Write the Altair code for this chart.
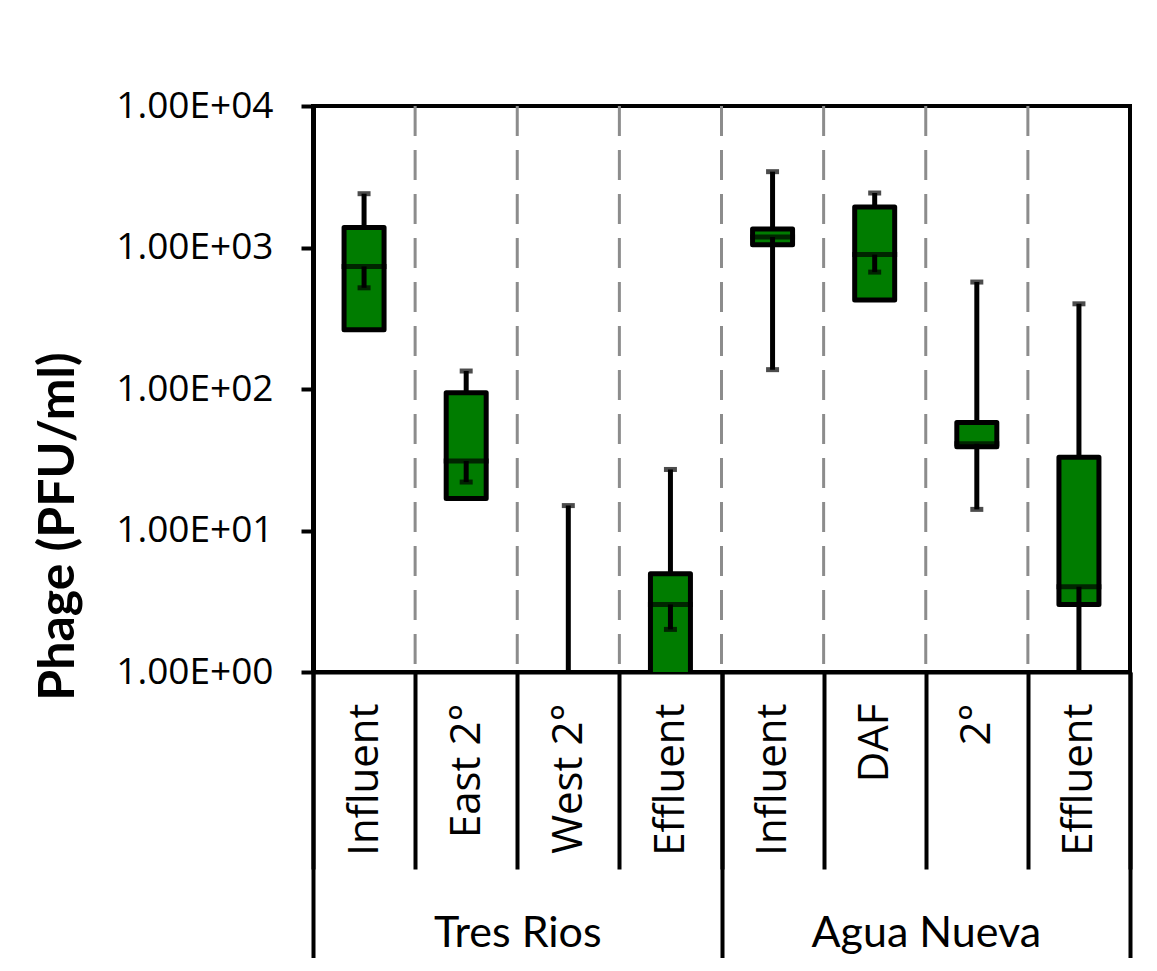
import altair as alt
import pandas as pd

# ---- data ----
groups = ["Tres Rios"] * 4 + ["Agua Nueva"] * 4
categories = ["Influent", "East 2°", "West 2°", "Effluent",
              "Influent", "DAF", "2°", "Effluent"]
q1 = [262, 16.8, 0.5, 0.5, 1047, 426, 39, 3.0]
median = [735, 31, 0.5, 3.0, 1186, 891, 41, 4.0]
q3 = [1386, 94, 0.5, 4.94, 1352, 1936, 58, 33]
upper = [2400, 134, 15, 27, 3435, 2427, 570, 400]
lower = [519, 22, 0.5, 2.0, 137, 670, 14.1, 0.5]
group_order = ["Tres Rios", "Agua Nueva"]
y_ticks = [1, 10, 100, 1000, 10000]

keys = [f"{g}|{c}" for g, c in zip(groups, categories)]
df = pd.DataFrame({
    "key": keys, "group": groups, "cat": categories, "idx": list(range(len(keys))),
    "q1": q1, "median": median, "q3": q3, "upper": upper, "lower": lower,
})
gdf = pd.DataFrame({"group": group_order})

GREEN = "#007c00"
BLACK = "#000000"

x_scale = alt.Scale(paddingInner=0, paddingOuter=0)
x_axis = alt.Axis(
    orient="bottom", title=None,
    labelExpr="split(datum.label, '|')[1]",
    labelAngle=-90, labelAlign="right", labelBaseline="middle",
    labelFont="Open Sans", labelFontSize=42, labelColor=BLACK,
    labelPadding=-166, labelLimit=400,
    tickBand="extent", tickSize=197, tickWidth=4, tickColor=BLACK,
    domainColor=BLACK, domainWidth=4, grid=False,
)
y_scale = alt.Scale(type="log", domain=[1, 10000], nice=False)
y_axis = alt.Axis(
    values=y_ticks,
    labelExpr="'1.00E+0' + round(log(datum.value) / LN10)",
    labelFont="Open Sans", labelFontSize=37, labelColor=BLACK, labelPadding=28,
    labelLimit=400,
    tickSize=12, tickWidth=4, tickColor=BLACK,
    domainColor=BLACK, domainWidth=5, grid=False,
    title="Phage (PFU/ml)", titleFont="Lato", titleFontSize=50,
    titleFontWeight="bold", titleColor=BLACK, titleLimit=800,
    titleAngle=270, titleX=-255, titleY=420,
    titleAlign="center", titleBaseline="middle",
)

X = alt.X("key:N", sort=keys, scale=x_scale, axis=x_axis)


def Y(field):
    return alt.Y(f"{field}:Q", scale=y_scale, axis=y_axis)


base = alt.Chart(df)

grid = base.transform_filter("datum.idx > 0").mark_rule(
    color="#8c8c8c", strokeWidth=3, strokeDash=[30, 14]
).encode(x=alt.X("key:N", sort=keys, scale=x_scale, axis=x_axis, bandPosition=0))

up_whisker = base.mark_rule(color=BLACK, strokeWidth=5, clip=True).encode(
    x=X, y=Y("q3"), y2="upper:Q")

box = base.mark_bar(size=40, fill=GREEN, stroke=BLACK, strokeWidth=5,
                    strokeJoin="round", clip=True).encode(
    x=X, y=Y("q1"), y2="q3:Q")

med = base.mark_tick(color=BLACK, thickness=5, size=45, clip=True).encode(
    x=X, y=Y("median"))

low_whisker = base.mark_rule(color=BLACK, strokeWidth=5, clip=True).encode(
    x=X, y=Y("lower"), y2="median:Q")

up_cap = base.mark_tick(color=BLACK, thickness=5, size=13, clip=True).encode(
    x=X, y=Y("upper"))

low_cap = base.mark_tick(color=BLACK, thickness=5, size=13, clip=True).encode(
    x=X, y=Y("lower"))

group_axis = alt.Chart(gdf).mark_point(opacity=0).encode(
    x=alt.X("group:N", sort=group_order,
            scale=alt.Scale(paddingInner=0, paddingOuter=0),
            axis=alt.Axis(orient="bottom", title=None, labelAngle=0,
                          labelAlign="center", labelBaseline="alphabetic",
                          labelFont="Lato", labelFontSize=43, labelColor=BLACK,
                          labelPadding=-26, labelLimit=600,
                          tickBand="extent", tickSize=300, tickWidth=4,
                          tickColor=BLACK, domain=False, grid=False))
)

main = alt.layer(grid, up_whisker, box, med, low_whisker, up_cap, low_cap)

chart = alt.layer(main, group_axis).resolve_scale(x="independent").properties(
    width=817, height=566,
    padding={"left": 305, "top": 98, "right": 19, "bottom": 286},
    autosize=alt.AutoSizeParams(type="none"),
    background="white",
).configure_view(stroke=BLACK, strokeWidth=4)

chart.save("out.html", embed_options={"renderer": "svg", "actions": False})
